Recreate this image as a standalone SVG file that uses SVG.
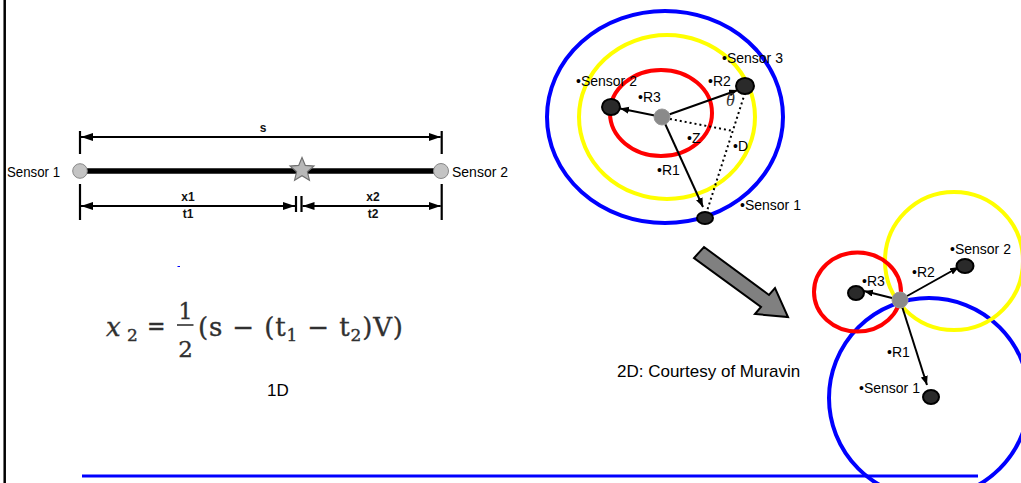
<svg xmlns="http://www.w3.org/2000/svg" width="1021" height="483" viewBox="0 0 1021 483">
<style>
.lbl{font-family:"Liberation Sans",Arial,sans-serif;font-size:14px;fill:#000}
.dimlbl{font-family:"Liberation Sans",Arial,sans-serif;font-size:12px;font-weight:bold;fill:#111;text-anchor:middle}
.cap{font-family:"Liberation Sans",Arial,sans-serif;font-size:17px;fill:#000}
.fm{font-family:"DejaVu Serif","Liberation Serif",serif;fill:#303030;stroke:#303030;stroke-width:0.35}
.dim{stroke:#000;stroke-width:2.2;fill:none}
.tick{stroke:#000;stroke-width:2.2}
.arr{stroke:#000;stroke-width:2;fill:none;marker-end:url(#ah)}
.dot{stroke:#000;stroke-width:2;stroke-dasharray:2 3;fill:none}
.sen{fill:#2a2a2a;stroke:#000;stroke-width:2}
.ctr{fill:#8a8a8a;stroke:#9a9a9a;stroke-width:1}
.ring{fill:none;stroke-width:4}
</style>
<defs>
<marker id="dh" markerUnits="userSpaceOnUse" markerWidth="13" markerHeight="9" refX="12" refY="4" orient="auto-start-reverse">
<path d="M0,0 L12,4 L0,8 z" fill="#000"/>
</marker>
<marker id="ah" markerUnits="userSpaceOnUse" markerWidth="10" markerHeight="8" refX="9" refY="3.5" orient="auto">
<path d="M0,0 L9,3.5 L0,7 z" fill="#000"/>
</marker>
</defs>

<g id="frame">
<line x1="4.7" y1="0" x2="4.7" y2="483" stroke="#000" stroke-width="2.5"/>
<line x1="82" y1="476" x2="978" y2="476" stroke="#0000ff" stroke-width="3"/>
<line x1="177.5" y1="266.5" x2="180" y2="266.5" stroke="#0000ff" stroke-width="1"/>
</g>

<!-- 1D diagram -->
<g id="connectors-1d">
<line x1="87" y1="171" x2="434" y2="171" stroke="#000" stroke-width="5.5"/>
<line class="tick" x1="80" y1="131" x2="80" y2="154"/>
<line class="tick" x1="441.7" y1="131" x2="441.7" y2="154"/>
<line class="dim" x1="81" y1="137" x2="440.7" y2="137" marker-start="url(#dh)" marker-end="url(#dh)"/>
<line class="tick" x1="80" y1="184" x2="80" y2="220"/>
<line class="tick" x1="441.7" y1="184" x2="441.7" y2="220"/>
<line class="tick" x1="296" y1="196" x2="296" y2="212"/>
<line class="tick" x1="301.5" y1="196" x2="301.5" y2="212"/>
<line class="dim" x1="81" y1="206" x2="295" y2="206" marker-start="url(#dh)" marker-end="url(#dh)"/>
<line class="dim" x1="302.5" y1="206" x2="440.7" y2="206" marker-start="url(#dh)" marker-end="url(#dh)"/>
</g>
<g id="sensor1-1d">
<circle cx="80" cy="171" r="7.3" fill="#c4c4c4" stroke="#888" stroke-width="1"/>
<text x="7" y="177" font-family="Liberation Sans, Arial, sans-serif" font-size="15" textLength="53" lengthAdjust="spacingAndGlyphs">Sensor 1</text>
</g>
<g id="sensor2-1d">
<circle cx="441" cy="171" r="7.5" fill="#c4c4c4" stroke="#888" stroke-width="1"/>
<text x="452" y="177" font-family="Liberation Sans, Arial, sans-serif" font-size="15" textLength="56" lengthAdjust="spacingAndGlyphs">Sensor 2</text>
</g>
<g id="source-1d">
<polygon points="302,157.5 305.3,165.4 313.9,166.1 307.4,171.8 309.4,180.2 302,175.8 294.6,180.2 296.6,171.8 290.1,166.1 298.7,165.4" fill="#b8b8b8" stroke="#707070" stroke-width="1.2"/>
</g>
<g id="labels-1d">
<text class="dimlbl" x="263" y="132">s</text>
<text class="dimlbl" x="188" y="201">x1</text>
<text class="dimlbl" x="188" y="218">t1</text>
<text class="dimlbl" x="373" y="201">x2</text>
<text class="dimlbl" x="373" y="218">t2</text>
</g>

<g id="formula">
<text class="fm" x="106" y="336" font-size="26" font-style="italic">x</text>
<text class="fm" x="127" y="341" font-size="17">2</text>
<text class="fm" x="147" y="334.5" font-size="26" textLength="18.5" lengthAdjust="spacingAndGlyphs">=</text>
<text class="fm" x="185.5" y="319" font-size="22" text-anchor="middle">1</text>
<line x1="177" y1="325" x2="193.5" y2="325" stroke="#303030" stroke-width="1.6"/>
<text class="fm" x="185.5" y="357" font-size="23" text-anchor="middle">2</text>
<text class="fm" x="198" y="336" font-size="26" textLength="205" lengthAdjust="spacing">(s − (t<tspan font-size="17" dy="5">1</tspan><tspan dy="-5"> − t</tspan><tspan font-size="17" dy="5">2</tspan><tspan dy="-5">)V)</tspan></text>
</g>
<g id="caption-1d"><text class="cap" x="267" y="396" font-size="16">1D</text></g>

<!-- 2D top diagram -->
<g id="rings-top">
<ellipse class="ring" cx="665" cy="117" rx="118" ry="106" stroke="#0000ff"/>
<ellipse class="ring" cx="667" cy="117" rx="88" ry="82" stroke="#ffff00"/>
<ellipse class="ring" cx="661" cy="113" rx="51" ry="43" stroke="#ff0000"/>
</g>
<g id="connectors-top">
<line class="arr" x1="662" y1="117" x2="620" y2="108.5"/>
<line class="arr" x1="662" y1="117" x2="738" y2="90"/>
<line class="arr" x1="662" y1="117" x2="703" y2="207"/>
<line class="dot" x1="665" y1="118" x2="733" y2="131"/>
<line class="dot" x1="745" y1="93" x2="706" y2="214"/>
</g>
<g id="center-top"><circle class="ctr" cx="662" cy="117" r="8"/></g>
<g id="sensor2-top"><ellipse class="sen" cx="611" cy="107" rx="9" ry="8"/><text class="lbl" x="576" y="86">•Sensor 2</text></g>
<g id="sensor3-top"><ellipse class="sen" cx="745" cy="86" rx="9" ry="8"/><text class="lbl" x="722" y="63">•Sensor 3</text></g>
<g id="sensor1-top"><ellipse class="sen" cx="705" cy="218" rx="8" ry="6"/><text class="lbl" x="740" y="210">•Sensor 1</text></g>
<g id="labels-top">
<text class="lbl" x="708" y="86">•R2</text>
<text class="lbl" x="638" y="102">•R3</text>
<text class="lbl" x="657" y="175">•R1</text>
<text class="lbl" x="687" y="143">•Z</text>
<text class="lbl" x="733" y="151">•D</text>
<text x="726" y="106" font-family="Liberation Serif, serif" font-style="italic" font-size="18" fill="#333">θ</text>
</g>

<g id="big-arrow">
<polygon points="704,247 769,295 775,288 788,317 755,314 761,307 694,258" fill="#808080" stroke="#000" stroke-width="2" stroke-linejoin="miter"/>
</g>

<!-- 2D bottom diagram -->
<g id="rings-bottom">
<circle class="ring" cx="929" cy="398" r="100" stroke="#0000ff"/>
<circle class="ring" cx="954" cy="261" r="69" stroke="#ffff00"/>
<ellipse class="ring" cx="857.5" cy="292" rx="43.5" ry="39.5" stroke="#ff0000"/>
</g>
<g id="connectors-bottom">
<line class="arr" x1="900" y1="300" x2="864" y2="291"/>
<line class="arr" x1="900" y1="300" x2="959" y2="267"/>
<line class="arr" x1="900" y1="300" x2="927" y2="385"/>
</g>
<g id="center-bottom"><circle class="ctr" cx="900" cy="300" r="8"/></g>
<g id="sensor3-bottom"><ellipse class="sen" cx="856" cy="293" rx="8" ry="7"/></g>
<g id="sensor2-bottom"><ellipse class="sen" cx="965" cy="266" rx="8.5" ry="7"/><text class="lbl" x="950" y="254">•Sensor 2</text></g>
<g id="sensor1-bottom"><ellipse class="sen" cx="931" cy="397" rx="8" ry="7"/><text class="lbl" x="859" y="393">•Sensor 1</text></g>
<g id="labels-bottom">
<text class="lbl" x="862" y="286">•R3</text>
<text class="lbl" x="912" y="277">•R2</text>
<text class="lbl" x="887" y="357">•R1</text>
</g>
<g id="caption-2d"><text class="cap" x="617" y="377">2D: Courtesy of Muravin</text></g>
</svg>
